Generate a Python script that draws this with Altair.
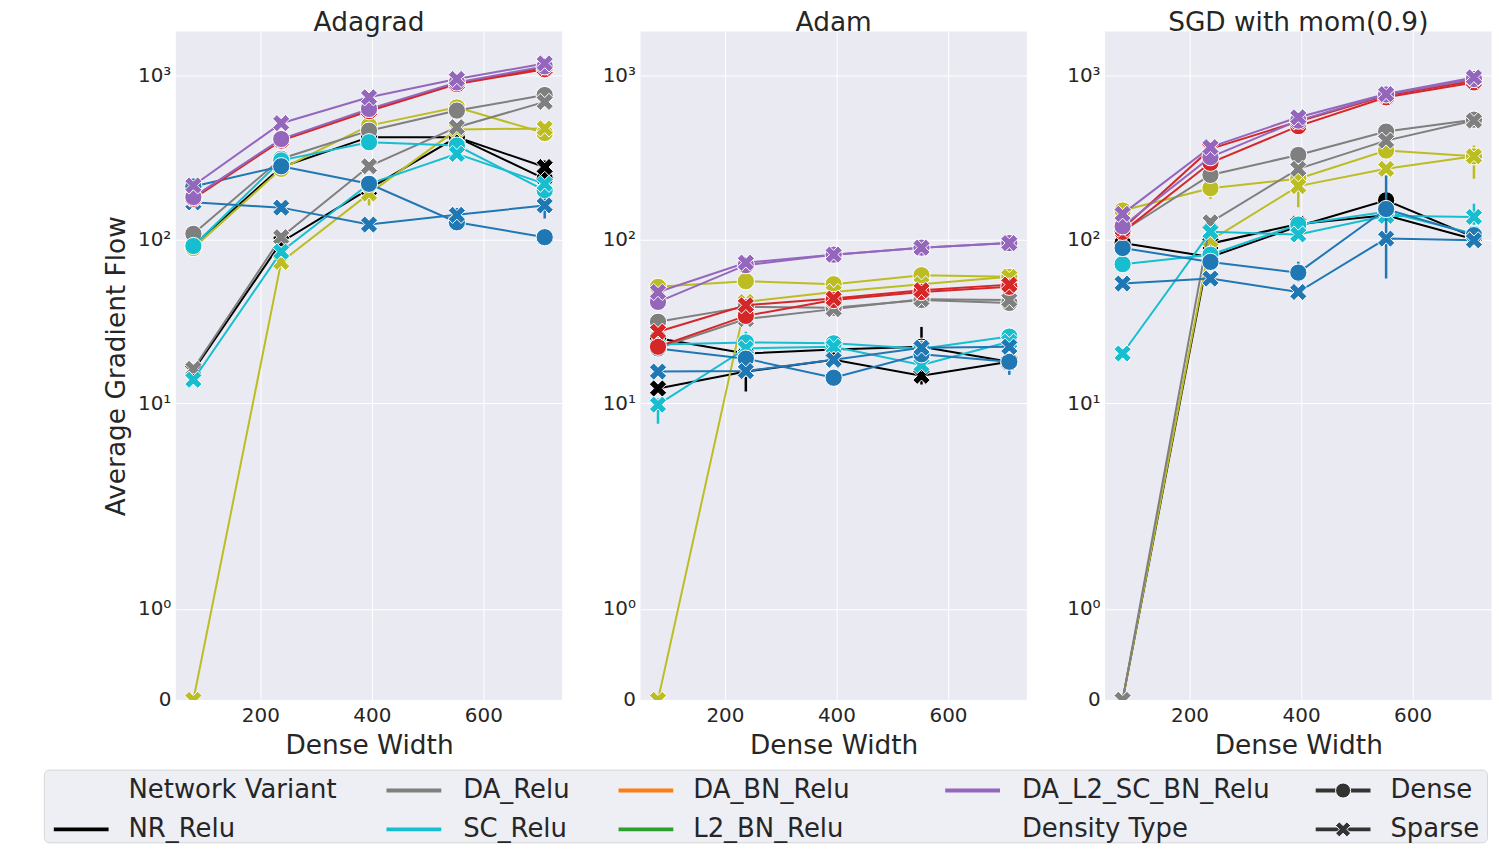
import math
import altair as alt
import pandas as pd

# ---------------- data ----------------
widths = [80, 237.5, 395, 552.5, 710]
optimizers = ["Adagrad", "Adam", "SGD with mom(0.9)"]
opt_keys = ["adagrad", "adam", "sgd"]
series = ["NR_Relu", "L2_Relu", "DA_Relu", "SC_Relu", "BN_Relu", "DA_SC_BN_Relu", "DA_L2_SC_BN_Relu"]
series_keys = ["nr", "l2", "da", "sc", "bn", "dasc", "dal2"]
series_colors = ["#000000", "#bcbd22", "#7f7f7f", "#17becf", "#1f77b4", "#d62728", "#9467bd"]
densities = ["Dense", "Sparse"]

# Adagrad
adagrad_nr_dense = [92, 276, 420, 420, 234]
adagrad_nr_sparse = [15.8, 96, 203, 420, 276]
adagrad_l2_dense = [88.5, 269, 494, 638, 445]
adagrad_l2_sparse = [0, 72.8, 190, 467, 475]
adagrad_da_dense = [108, 310, 460, 610, 759]
adagrad_da_sparse = [16.2, 103, 279, 483, 689]
adagrad_sc_dense = [91, 303, 391, 373, 199]
adagrad_sc_sparse = [13.9, 84, 218, 332, 218]
adagrad_bn_dense = [210, 279, 218, 127, 103]
adagrad_bn_sparse = [168, 156, 123, 141, 161]
adagrad_dasc_dense = [177, 400, 605, 885, 1090]
adagrad_dasc_sparse = [180, 405, 615, 895, 1110]
adagrad_dal2_dense = [181, 409, 624, 906, 1135]
adagrad_dal2_sparse = [213, 511, 735, 951, 1183]

# Adam
adam_nr_dense = [24.9, 20.1, 21.3, 22.1, 17.9]
adam_nr_sparse = [12.3, 15.6, 18.4, 14.7, 17.9]
adam_l2_dense = [51.3, 55.5, 53.2, 60.4, 59]
adam_l2_sparse = [0, 41.5, 47.7, 53.2, 59]
adam_da_dense = [31.4, 38.7, 38.2, 42.6, 40.9]
adam_da_sparse = [21.7, 32.6, 37.5, 43.1, 42.6]
adam_sc_dense = [22.8, 23.5, 23.2, 21.5, 25.5]
adam_sc_sparse = [9.8, 21.6, 22.1, 17.1, 23.7]
adam_bn_dense = [21.6, 18.7, 14.3, 19.9, 17.9]
adam_bn_sparse = [15.6, 15.7, 18.4, 21.8, 22.1]
adam_dasc_dense = [22.1, 34.1, 42.6, 47.7, 51.3]
adam_dasc_sparse = [27.3, 39.6, 43.5, 48.9, 52.9]
adam_dal2_dense = [41.5, 69.5, 80.6, 88.9, 94.8]
adam_dal2_sparse = [47.7, 72, 80.6, 88.9, 94.8]

# SGD with momentum
sgd_nr_dense = [95, 78, 120, 173, 103]
sgd_nr_sparse = [0, 94, 124, 140, 100]
sgd_l2_dense = [150, 205, 234, 348, 321]
sgd_l2_sparse = [0, 98.6, 211, 269, 321]
sgd_da_dense = [112, 247, 327, 454, 537]
sgd_da_sparse = [0, 127, 269, 400, 530]
sgd_sc_dense = [70.5, 80.5, 123, 147, 108]
sgd_sc_sparse = [20.1, 111, 107, 139, 137]
sgd_bn_dense = [88.5, 72.8, 62.6, 153, 106]
sgd_bn_sparse = [53.7, 57.6, 47.7, 101, 98.6]
sgd_dasc_dense = [111, 293, 490, 735, 906]
sgd_dasc_sparse = [116, 356, 523, 753, 928]
sgd_dal2_dense = [120, 317, 530, 765, 950]
sgd_dal2_sparse = [143, 365, 555, 769, 972]

# confidence intervals that are visible
err_opt = ["Adagrad", "Adagrad", "Adagrad", "Adagrad", "Adagrad", "Adagrad",
           "Adam", "Adam", "Adam", "Adam", "Adam",
           "SGD with mom(0.9)", "SGD with mom(0.9)", "SGD with mom(0.9)",
           "SGD with mom(0.9)", "SGD with mom(0.9)", "SGD with mom(0.9)"]
err_series = ["NR_Relu", "BN_Relu", "BN_Relu", "BN_Relu", "L2_Relu", "BN_Relu",
              "NR_Relu", "NR_Relu", "SC_Relu", "BN_Relu", "SC_Relu",
              "BN_Relu", "L2_Relu", "L2_Relu", "SC_Relu", "BN_Relu", "L2_Relu"]
err_density = ["Sparse", "Sparse", "Dense", "Sparse", "Sparse", "Dense",
               "Sparse", "Sparse", "Sparse", "Dense", "Sparse",
               "Sparse", "Sparse", "Sparse", "Sparse", "Dense", "Dense"]
err_width = [710, 552.5, 552.5, 710, 395, 80,
             237.5, 552.5, 80, 710, 237.5,
             552.5, 710, 395, 710, 395, 237.5]
err_lo = [248, 115, 118, 134, 161, 160,
          11.8, 13.0, 7.5, 14.9, 20.5,
          57.6, 234, 157, 116, 55, 176]
err_hi = [302, 155, 136, 177, 203, 225,
          16.6, 29.2, 10.7, 19.8, 27.3,
          245, 373, 245, 165, 73, 228]

# axis ticks
x_ticks = [200, 400, 600]
y_tick_values = [0, 1, 10, 100, 1000]
y_tick_labels = ["0", "10\u2070", "10\u00b9", "10\u00b2", "10\u00b3"]
y_top_value = 1850  # upper limit of the y axis

# legend entries
leg_labels = ["Network Variant", "NR_Relu", "DA_Relu", "SC_Relu", "DA_BN_Relu",
              "L2_BN_Relu", "DA_L2_SC_BN_Relu", "Density Type", "Dense", "Sparse"]
leg_colors = ["none", "#000000", "#7f7f7f", "#17becf", "#ff7f0e",
              "#2ca02c", "#9467bd", "none", "#333333", "#333333"]
leg_kind = ["title", "line", "line", "line", "line", "line", "line", "title", "Dense", "Sparse"]

# ---------------- helpers ----------------
LINSCALE = 1.0 / (1.0 - 0.1)
LINTHRESH = 2.0


def symlog(v):
    if v <= LINTHRESH:
        return v / LINTHRESH * LINSCALE
    return LINSCALE + math.log10(v / LINTHRESH)


def symlog_expr(field):
    return (f"datum.{field} <= {LINTHRESH} ? datum.{field} / {LINTHRESH} * {LINSCALE} : "
            f"{LINSCALE} + log(datum.{field} / {LINTHRESH}) / LN10")


rows = []
for opt, ok in zip(optimizers, opt_keys):
    for s, sk in zip(series, series_keys):
        for dens in densities:
            vals = globals()[f"{ok}_{sk}_{dens.lower()}"]
            for w, v in zip(widths, vals):
                rows.append({"opt": opt, "series": s, "density": dens, "w": w, "v": v})
df = pd.DataFrame(rows)
err_df = pd.DataFrame({"opt": err_opt, "series": err_series, "density": err_density,
                       "w": err_width, "lo": err_lo, "hi": err_hi})

tick_pos = [symlog(v) for v in y_tick_values]
label_expr = ""
for i in range(len(tick_pos) - 1):
    mid = (tick_pos[i] + tick_pos[i + 1]) / 2
    label_expr += f"datum.value < {mid:.4f} ? '{y_tick_labels[i]}' : "
label_expr += f"'{y_tick_labels[-1]}'"

X_PATH = ("M-0.5,-1L0,-0.5L0.5,-1L1,-0.5L0.5,0L1,0.5L0.5,1L0,0.5"
          "L-0.5,1L-1,0.5L-0.5,0L-1,-0.5Z")
shape_scale = alt.Scale(domain=densities, range=["circle", X_PATH])

FONT = "DejaVu Sans"
TXT = "#262626"
PANEL_W = 388
PANEL_H = 671

x_scale = alt.Scale(domain=[48.5, 741.5], nice=False, zero=False)
y_scale = alt.Scale(domain=[0, symlog(y_top_value)], nice=False, zero=False)


def make_axes():
    xa = alt.Axis(values=x_ticks, format="d", labelPadding=6, titlePadding=7,
                  labelFlush=False)
    ya = alt.Axis(values=tick_pos, labelExpr=label_expr, labelPadding=5,
                  titlePadding=7, labelFlush=False, labelOverlap=False)
    return xa, ya


def panel(opt, first):
    xa, ya = make_axes()
    X = alt.X("w:Q", scale=x_scale, axis=xa, title="Dense Width")
    ytitle = "Average Gradient Flow" if first else None
    layers = []
    for s, c in zip(series, series_colors):
        d = df[(df.opt == opt) & (df.series == s)]
        e = err_df[(err_df.opt == opt) & (err_df.series == s)]
        if len(e):
            layers.append(
                alt.Chart(e).mark_rule(color=c, strokeWidth=2.5, clip=True)
                .transform_calculate(tlo=symlog_expr("lo"), thi=symlog_expr("hi"))
                .encode(x=X,
                        y=alt.Y("tlo:Q", scale=y_scale, axis=ya, title=ytitle),
                        y2="thi:Q")
            )
        layers.append(
            alt.Chart(d).mark_line(color=c, strokeWidth=2, clip=True)
            .transform_calculate(t=symlog_expr("v"))
            .encode(x=X,
                    y=alt.Y("t:Q", scale=y_scale, axis=ya, title=ytitle),
                    detail="density:N")
        )
        layers.append(
            alt.Chart(d).mark_point(filled=True, color=c, size=300, opacity=1,
                                    stroke="white", strokeWidth=1, clip=True)
            .transform_calculate(t=symlog_expr("v"))
            .encode(x=X,
                    y=alt.Y("t:Q", scale=y_scale, axis=ya, title=ytitle),
                    shape=alt.Shape("density:N", scale=shape_scale, legend=None))
        )
    return alt.layer(*layers).properties(
        width=PANEL_W, height=PANEL_H,
        title=alt.TitleParams(opt, fontSize=26.5, font=FONT, fontWeight="normal",
                              color=TXT, anchor="middle", baseline="alphabetic", offset=-26),
        view=alt.ViewBackground(fill="#EAEAF2", strokeWidth=0),
    )


spacer = alt.Chart(pd.DataFrame({"a": [0]})).mark_point(size=0, opacity=0).encode(
    x=alt.value(0), y=alt.value(0)
).properties(width=20, height=PANEL_H, view=alt.ViewBackground(strokeWidth=0))

top = alt.hconcat(spacer, *[panel(o, i == 0) for i, o in enumerate(optimizers)], spacing=39.5)

# ---------------- legend ----------------
LEG_W = 1449
LEG_H = 73
col_handle_x = [10, 344, 577, 905, 1277]
col_text_x = [85, 421, 652, 982, 1352]
row_y = [21, 60]
HANDLE_LEN = 55

leg_rows = []
for i, (lab, col, kind) in enumerate(zip(leg_labels, leg_colors, leg_kind)):
    c, r = i // 2, i % 2
    leg_rows.append({"label": lab, "color": col, "kind": kind,
                     "hx0": col_handle_x[c], "hx1": col_handle_x[c] + HANDLE_LEN,
                     "hm": col_handle_x[c] + HANDLE_LEN / 2,
                     "tx": col_text_x[c], "ty": row_y[r]})
leg_df = pd.DataFrame(leg_rows)

leg_base = alt.Chart(leg_df)
leg_lines = leg_base.transform_filter("datum.kind != 'title'").mark_rule(strokeWidth=4).encode(
    x=alt.X("hx0:Q", scale=None), x2="hx1:Q",
    y=alt.Y("ty:Q", scale=None), color=alt.Color("color:N", scale=None))
leg_marks = leg_base.transform_filter("datum.kind == 'Dense' || datum.kind == 'Sparse'").mark_point(
    filled=True, size=230, opacity=1, stroke="white", strokeWidth=1).encode(
    x=alt.X("hm:Q", scale=None), y=alt.Y("ty:Q", scale=None),
    color=alt.Color("color:N", scale=None),
    shape=alt.Shape("kind:N", scale=shape_scale, legend=None))
leg_text = leg_base.mark_text(align="left", baseline="middle", fontSize=26, font=FONT,
                              color=TXT).encode(
    x=alt.X("tx:Q", scale=None), y=alt.Y("ty:Q", scale=None), text="label:N")

legend = alt.layer(leg_lines, leg_marks, leg_text).properties(
    width=LEG_W, height=LEG_H,
    view=alt.ViewBackground(fill="#EEEEF5", stroke="#D6D6D6", strokeWidth=1, cornerRadius=5),
)

chart = alt.vconcat(top, legend, spacing=9).properties(
    padding={"left": 35, "top": 0, "right": 0, "bottom": 0}
).configure_view(strokeWidth=0).configure_axis(
    labelFont=FONT, labelFontSize=20, labelColor=TXT,
    titleFont=FONT, titleFontSize=26.5, titleColor=TXT, titleFontWeight="normal",
    grid=True, gridColor="white", gridWidth=1, domain=False, ticks=False, tickSize=0,
)

chart.save("out.html", embed_options={"renderer": "svg", "actions": False})
